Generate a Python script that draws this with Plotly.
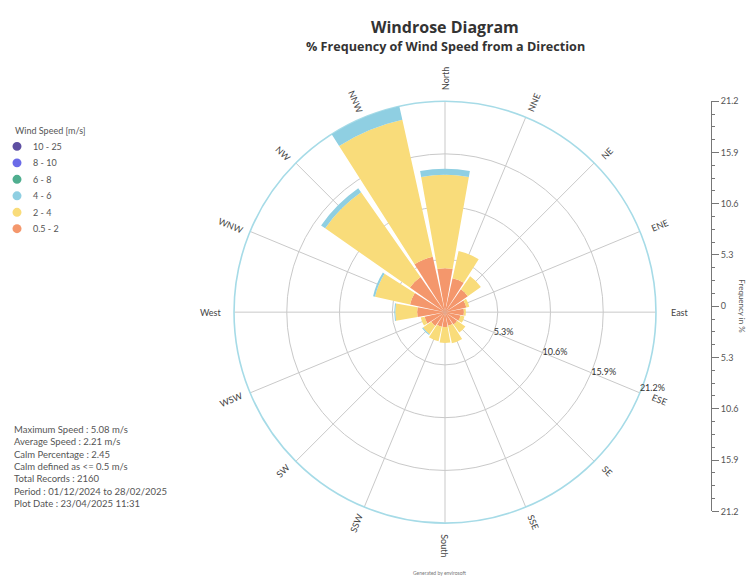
import math
import plotly.graph_objects as go

# ---------------- data ----------------
directions = ["North", "NNE", "NE", "ENE", "East", "ESE", "SE", "SSE",
              "South", "SSW", "SW", "WSW", "West", "WNW", "NW", "NNW"]
dir_angles = [0, 22.5, 45, 67.5, 90, 112.5, 135, 157.5,
              180, 202.5, 225, 247.5, 270, 292.5, 315, 337.5]

speed_bins = ["0.5 - 2", "2 - 4", "4 - 6", "6 - 8", "8 - 10", "10 - 25"]
bin_colors = ["#f4976c", "#f9dc7a", "#8fcfe2", "#4fae8f", "#6b6be8", "#5e4fa2"]

freq_05_2 = [4.4, 3.5, 2.8, 2.2, 1.9, 1.6, 1.5, 1.4, 1.5, 1.5, 1.7, 2.1, 2.8, 3.6, 4.3, 5.7]
freq_2_4 = [9.4, 2.8, 1.6, 0.3, 0.2, 0.4, 1.0, 1.8, 1.6, 1.5, 1.0, 0.4, 2.2, 3.6, 10.4, 14.1]
freq_4_6 = [0.6, 0, 0, 0, 0, 0, 0, 0, 0, 0, 0.1, 0, 0.1, 0.2, 0.5, 1.4]
freq_6_8 = [0] * 16
freq_8_10 = [0] * 16
freq_10_25 = [0] * 16
bin_values = [freq_05_2, freq_2_4, freq_4_6, freq_6_8, freq_8_10, freq_10_25]

radial_ticks = [5.3, 10.6, 15.9, 21.2]
radial_labels = ["5.3%", "10.6%", "15.9%", "21.2%"]
r_max = 21.2

side_tickvals = [21.2, 15.9, 10.6, 5.3, 0, -5.3, -10.6, -15.9, -21.2]
side_ticktext = ["21.2", "15.9", "10.6", "5.3", "0", "5.3", "10.6", "15.9", "21.2"]

stats_lines = [
    "Maximum Speed : 5.08 m/s",
    "Average Speed : 2.21 m/s",
    "Calm Percentage : 2.45",
    "Calm defined as &lt;= 0.5 m/s",
    "Total Records : 2160",
    "Period : 01/12/2024 to 28/02/2025",
    "Plot Date : 23/04/2025 11:31",
]

# ---------------- layout geometry (pixels) ----------------
W, H = 749, 587
CX, CY, R = 445, 312, 215
FONT = "Lato"
TFONT = "Open Sans"


def px(x):
    return x / W


def py(y):
    return 1 - y / H


fig = go.Figure()

for name, vals, col in zip(speed_bins, bin_values, bin_colors):
    fig.add_trace(go.Barpolar(
        r=vals, theta=dir_angles, width=20, name=name,
        marker=dict(color=col, line=dict(width=0)),
        showlegend=False,
    ))

# radial tick labels along ESE
fig.add_trace(go.Scatterpolar(
    r=radial_ticks, theta=[112.5] * len(radial_ticks), mode="text",
    text=radial_labels,
    textposition=["middle right", "middle right", "middle right", "top right"],
    textfont=dict(size=9, color="#333333", family=FONT),
    showlegend=False, cliponaxis=False, hoverinfo="skip",
))

# invisible trace to keep the side cartesian axis alive
fig.add_trace(go.Scatter(x=[None], y=[None], mode="markers", showlegend=False,
                         xaxis="x", yaxis="y", hoverinfo="skip"))

annotations = []
shapes = []

# direction labels (radially oriented)
for name, ang in zip(directions, dir_angles):
    half = len(name) * 2.9
    rl = R + 8 + half
    t = math.radians(ang)
    x = CX + rl * math.sin(t)
    y = CY - rl * math.cos(t)
    if ang == 0:
        rot = -90
    elif ang <= 180:
        rot = ang - 90
    else:
        rot = ang - 270
    annotations.append(dict(
        x=px(x), y=py(y), xref="paper", yref="paper", text=name,
        showarrow=False, textangle=rot, xanchor="center", yanchor="middle",
        font=dict(size=9, color="#444444", family=FONT),
    ))

# legend (drawn manually to match compact spacing)
LEG_X, LEG_TITLE_Y, LEG_Y0, LEG_DY, MR = 13, 127, 143, 16.8, 4.5
annotations.append(dict(x=px(LEG_X), y=py(LEG_TITLE_Y), xref="paper", yref="paper",
                        text="Wind Speed [m/s]", showarrow=False, xanchor="left",
                        yanchor="middle", font=dict(size=9, color="#555555", family=FONT)))
for i, (name, col) in enumerate(reversed(list(zip(speed_bins, bin_colors)))):
    yc = LEG_Y0 + i * LEG_DY
    shapes.append(dict(type="circle", xref="paper", yref="paper",
                       x0=px(17 - MR), x1=px(17 + MR), y0=py(yc + MR), y1=py(yc - MR),
                       fillcolor=col, line=dict(width=0)))
    annotations.append(dict(x=px(31), y=py(yc), xref="paper", yref="paper", text=name,
                            showarrow=False, xanchor="left", yanchor="middle",
                            font=dict(size=9, color="#555555", family=FONT)))

annotations += [
    dict(x=px(CX), y=py(21), xref="paper", yref="paper", text="<b>Windrose Diagram</b>",
         showarrow=False, font=dict(size=16, color="#333333", family=TFONT),
         xanchor="center", yanchor="middle"),
    dict(x=px(CX), y=py(41), xref="paper", yref="paper",
         text="<b>% Frequency of Wind Speed from a Direction</b>",
         showarrow=False, font=dict(size=12.6, color="#333333", family=TFONT),
         xanchor="center", yanchor="middle"),
    dict(x=px(12), y=py(424), xref="paper", yref="paper", text="<br>".join(stats_lines),
         showarrow=False, align="left", xanchor="left", yanchor="top",
         font=dict(size=9.5, color="#555555", family=FONT)),
    dict(x=px(742), y=py(306), xref="paper", yref="paper", text="Frequency in %",
         showarrow=False, textangle=90, xanchor="center", yanchor="middle",
         font=dict(size=8, color="#555555", family=FONT)),
    dict(x=px(440), y=py(578), xref="paper", yref="paper", text="Generated by envirosoft",
         showarrow=False, xanchor="center", yanchor="middle",
         font=dict(size=5, color="#777777", family=FONT)),
]

fig.update_layout(
    width=W, height=H,
    margin=dict(l=0, r=0, t=0, b=0),
    paper_bgcolor="white", plot_bgcolor="white",
    font=dict(family=FONT, color="#444444"),
    showlegend=False,
    polar=dict(
        domain=dict(x=[px(CX - R), px(CX + R)], y=[py(CY + R), py(CY - R)]),
        bgcolor="white",
        barmode="stack",
        radialaxis=dict(range=[0, r_max], tickvals=radial_ticks, showticklabels=False,
                        ticks="", showline=False, gridcolor="#c9c9c9", gridwidth=1,
                        angle=-22.5, layer="below traces"),
        angularaxis=dict(rotation=90, direction="clockwise", dtick=22.5,
                         showticklabels=False, ticks="", showline=True,
                         linecolor="#a6dbe7", linewidth=1.6,
                         gridcolor="#c9c9c9", gridwidth=1, layer="below traces"),
    ),
    xaxis=dict(domain=[0.95, 0.951], visible=False, range=[0, 1], fixedrange=True),
    yaxis=dict(domain=[py(515), py(97)], range=[-21.2, 21.2], anchor="free",
               position=px(711), side="right", showline=True, linecolor="#777777",
               ticks="outside", ticklen=7, tickcolor="#777777",
               tickmode="array", tickvals=side_tickvals, ticktext=side_ticktext,
               tickfont=dict(size=9, color="#555555", family=FONT),
               minor=dict(tickmode="linear", tick0=0, dtick=1.325, ticks="outside",
                          ticklen=3, tickcolor="#777777"),
               showgrid=False, zeroline=False, fixedrange=True),
    annotations=annotations,
    shapes=shapes,
)

fig.write_html("out.html", config={"displayModeBar": False},
               post_script="document.body.style.margin='0';")
